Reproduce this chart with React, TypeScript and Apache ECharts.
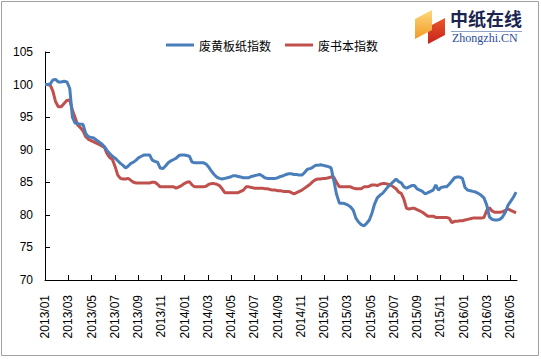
import React, { useEffect, useRef } from "react";
import * as echarts from "echarts";

const seriesNames = ["废黄板纸指数", "废书本指数"];
const seriesColors = ["#4a7ebb", "#c0504d"];

// Weekly index values, first week starting 2013/01/01
const startYear = 2013;
const wastePaperboardIndex = [
  100.0, 100.0, 100.1, 100.7, 100.8, 100.4, 100.4, 100.5, 100.4, 99.4,
  95.0, 94.1, 94.0, 93.9, 93.9, 92.5, 92.0, 91.9, 91.8, 91.5,
  91.2, 90.9, 90.5, 89.9, 89.4, 89.0, 88.7, 88.3, 87.9, 87.6,
  87.2, 87.5, 87.9, 88.1, 88.4, 88.8, 89.0, 89.2, 89.2, 89.2,
  88.4, 88.2, 88.1, 87.2, 87.1, 87.5, 88.0, 88.3, 88.5, 88.7,
  89.1, 89.2, 89.2, 89.1, 89.0, 88.1, 88.0, 88.0, 88.0, 88.0,
  87.8, 87.3, 86.7, 86.2, 85.8, 85.6, 85.5, 85.6, 85.7, 85.8,
  86.0, 86.0, 85.9, 85.8, 85.7, 85.7, 85.7, 85.9, 86.0, 86.1,
  86.2, 86.0, 85.7, 85.6, 85.6, 85.6, 85.6, 85.7, 85.9, 86.0,
  86.2, 86.3, 86.3, 86.2, 86.2, 86.1, 86.1, 86.5, 87.0, 87.1,
  87.3, 87.6, 87.6, 87.7, 87.6, 87.5, 87.4, 87.2, 85.3, 83.2,
  81.8, 81.8, 81.7, 81.5, 81.2, 80.7, 79.5, 78.9, 78.5, 78.3,
  78.7, 79.2, 80.3, 81.7, 82.6, 83.0, 83.3, 83.8, 84.3, 84.7,
  85.1, 85.5, 85.1, 84.9, 84.3, 84.1, 84.3, 84.5, 84.5, 84.0,
  83.8, 83.6, 83.2, 83.4, 83.6, 83.8, 84.6, 83.8, 84.2, 84.3,
  84.3, 84.7, 85.2, 85.7, 85.8, 85.8, 85.6, 84.2, 83.8, 83.7,
  83.6, 83.5, 83.3, 83.0, 82.6, 81.5, 79.7, 79.3, 79.2, 79.2,
  79.3, 79.7, 80.4, 81.5, 82.1, 82.7, 83.5,
];
const wasteBookIndex = [
  100.0, 100.0, 99.9, 99.0, 97.4, 96.6, 96.6, 97.1, 97.6, 97.6,
  96.1, 95.0, 93.8, 93.4, 92.9, 92.0, 91.6, 91.4, 91.2, 91.0,
  90.8, 90.6, 90.4, 89.4, 88.8, 88.5, 87.4, 86.1, 85.6, 85.5,
  85.5, 85.6, 85.3, 85.0, 84.9, 84.9, 84.9, 84.9, 84.9, 84.9,
  85.0, 85.0, 84.7, 84.3, 84.3, 84.3, 84.3, 84.3, 84.3, 84.1,
  84.3, 84.5, 84.8, 85.0, 85.1, 84.6, 84.3, 84.3, 84.3, 84.3,
  84.4, 84.7, 84.8, 84.8, 84.7, 84.5, 84.0, 83.4, 83.4, 83.4,
  83.4, 83.4, 83.4, 83.6, 83.8, 84.3, 84.3, 84.2, 84.1, 84.1,
  84.1, 84.1, 84.0, 84.0, 83.9, 83.8, 83.8, 83.7, 83.7, 83.6,
  83.6, 83.6, 83.4, 83.2, 83.4, 83.6, 83.8, 84.1, 84.4, 84.7,
  85.1, 85.4, 85.5, 85.5, 85.6, 85.6, 85.7, 85.8, 85.8, 85.0,
  84.3, 84.3, 84.3, 84.3, 84.3, 84.1, 84.0, 84.0, 84.0, 84.3,
  84.3, 84.4, 84.6, 84.6, 84.5, 84.7, 84.8, 84.8, 84.7, 84.6,
  84.3, 84.0, 83.5, 83.3, 82.4, 81.0, 80.9, 81.0, 81.0, 80.8,
  80.6, 80.4, 80.1, 79.8, 79.8, 79.8, 79.6, 79.6, 79.6, 79.6,
  79.6, 79.5, 78.8, 79.0, 79.0, 79.1, 79.1, 79.2, 79.3, 79.4,
  79.5, 79.5, 79.5, 79.5, 79.6, 80.7, 81.1, 80.6, 80.4, 80.4,
  80.4, 80.5, 80.7, 80.9, 80.7, 80.5, 80.3,
];

const xTickLabels = [
  "2013/01", "2013/03", "2013/05", "2013/07", "2013/09", "2013/11",
  "2014/01", "2014/03", "2014/05", "2014/07", "2014/09", "2014/11",
  "2015/01", "2015/03", "2015/05", "2015/07", "2015/09", "2015/11",
  "2016/01", "2016/03", "2016/05",
];
const yMin = 70;
const yMax = 105;
const yStep = 5;

// month offset (from 2013/01) of a tick label
function labelToMonth(label: string): number {
  const [y, m] = label.split("/").map(Number);
  return (y - startYear) * 12 + (m - 1);
}
// month offset (fractional) of the week i's date
function weekToMonth(i: number): number {
  const d = new Date(Date.UTC(startYear, 0, 1) + i * 7 * 86400000);
  const y = d.getUTCFullYear();
  const m = d.getUTCMonth();
  const dim = new Date(Date.UTC(y, m + 1, 0)).getUTCDate();
  return (y - startYear) * 12 + m + (d.getUTCDate() - 1) / dim;
}

const tickMonths = xTickLabels.map(labelToMonth);
const monthLabel: Record<number, string> = {};
xTickLabels.forEach((l) => (monthLabel[labelToMonth(l)] = l));

export default function App() {
  const ref = useRef<HTMLDivElement>(null);
  useEffect(() => {
    document.body.style.margin = "0";
    const chart = echarts.init(ref.current!, undefined, { renderer: "svg" });
    const toPairs = (arr: number[]) => arr.map((v, i) => [weekToMonth(i), v]);
    const axisFont = "Liberation Sans, Arial, sans-serif";
    chart.setOption({
      animation: false,
      backgroundColor: "#ffffff",
      grid: { left: 45, right: 24, top: 52, bottom: 79, containLabel: false },
      legend: {
        data: seriesNames,
        left: 161,
        top: 34,
        icon: "rect",
        itemWidth: 28,
        itemHeight: 3,
        itemGap: 14,
        textStyle: {
          fontSize: 12,
          color: "#000",
          fontFamily: "Noto Sans CJK SC, sans-serif",
        },
      },
      xAxis: {
        type: "value",
        min: 0,
        max: 40.6,
        interval: 2,
        axisLine: { lineStyle: { color: "#000", width: 1 } },
        axisTick: {
          inside: true,
          length: 5,
          lineStyle: { color: "#000" },
          customValues: tickMonths,
        },
        axisLabel: {
          rotate: 90,
          margin: 15,
          fontSize: 12,
          color: "#000",
          fontFamily: axisFont,
          customValues: tickMonths,
          formatter: (v: number) => monthLabel[Math.round(v)] ?? "",
        },
        splitLine: { show: false },
      },
      yAxis: {
        type: "value",
        min: yMin,
        max: yMax,
        interval: yStep,
        axisLine: { show: true, lineStyle: { color: "#000", width: 1 } },
        axisTick: { show: true, inside: true, length: 5, lineStyle: { color: "#000" } },
        axisLabel: { margin: 12, fontSize: 12, color: "#000", fontFamily: axisFont },
        splitLine: { show: false },
      },
      series: [
        {
          name: seriesNames[0],
          type: "line",
          data: toPairs(wastePaperboardIndex),
          showSymbol: false,
          symbol: "none",
          lineStyle: { color: seriesColors[0], width: 3 },
          itemStyle: { color: seriesColors[0] },
          z: 3,
        },
        {
          name: seriesNames[1],
          type: "line",
          data: toPairs(wasteBookIndex),
          showSymbol: false,
          symbol: "none",
          lineStyle: { color: seriesColors[1], width: 3 },
          itemStyle: { color: seriesColors[1] },
          z: 2,
        },
      ],
      graphic: [
        {
          type: "rect",
          shape: { x: 1.5, y: 1.5, width: 537, height: 354 },
          style: { fill: "none", stroke: "#a0a0a0", lineWidth: 1 },
          silent: true,
        },
        {
          type: "polygon",
          shape: { points: [[428, 27], [445, 18], [445, 35], [428, 44]] },
          style: {
            fill: new echarts.graphic.LinearGradient(0, 0, 0, 1, [
              { offset: 0, color: "#e8582a" },
              { offset: 1, color: "#c8221a" },
            ]),
          },
        },
        {
          type: "polygon",
          shape: { points: [[415, 19], [432, 10], [432, 30], [415, 39]] },
          style: {
            fill: new echarts.graphic.LinearGradient(0, 0, 0, 1, [
              { offset: 0, color: "#fcd87a" },
              { offset: 1, color: "#f39a2a" },
            ]),
          },
        },
        {
          type: "text",
          x: 450,
          y: 9,
          style: {
            text: "中纸在线",
            fontSize: 18,
            fontWeight: "bold",
            fontFamily: "Noto Sans CJK SC, sans-serif",
            fill: "#1b2550",
          },
        },
        {
          type: "line",
          shape: { x1: 451, y1: 31.5, x2: 522, y2: 31.5 },
          style: { stroke: "#8fa3c8", lineWidth: 1 },
        },
        {
          type: "text",
          x: 452,
          y: 32,
          style: {
            text: "Zhongzhi.CN",
            fontSize: 12,
            fontFamily: "Liberation Serif, serif",
            fill: "#2b4c9b",
          },
        },
      ],
    });
    return () => chart.dispose();
  }, []);
  return <div ref={ref} style={{ width: 541, height: 359 }} />;
}
